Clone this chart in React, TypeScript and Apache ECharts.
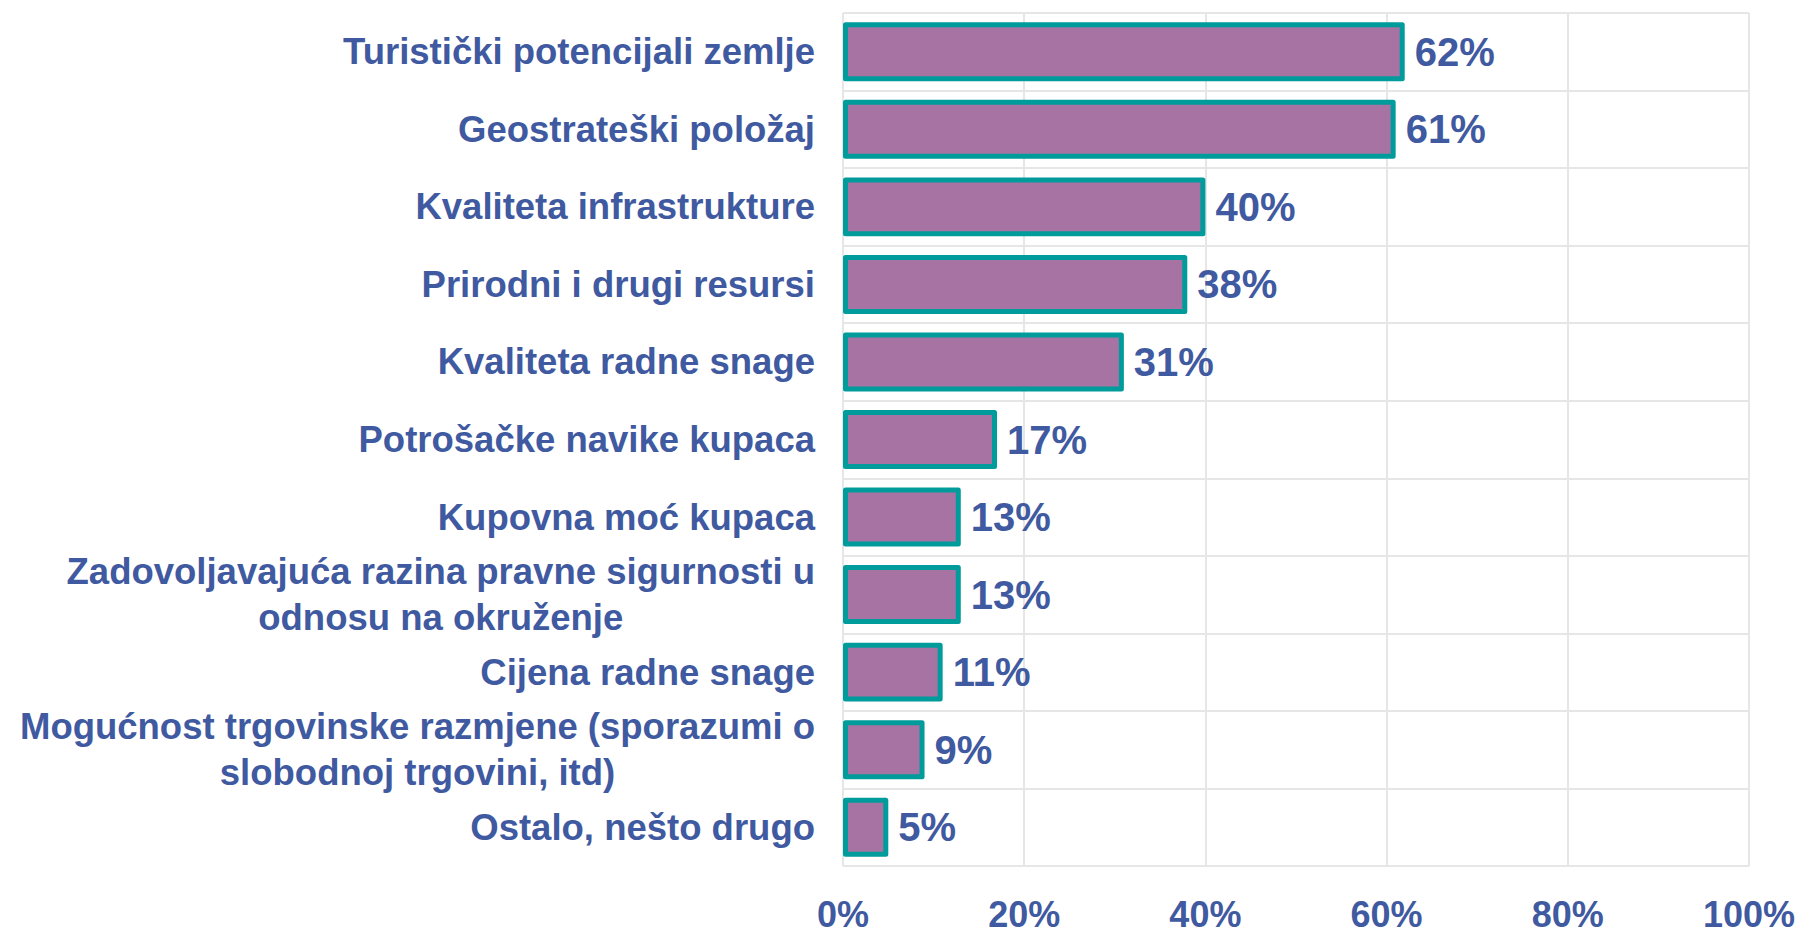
import React, { useEffect, useRef } from "react";
import * as echarts from "echarts";

const categories: string[] = [
  "Turistički potencijali zemlje",
  "Geostrateški položaj",
  "Kvaliteta infrastrukture",
  "Prirodni i drugi resursi",
  "Kvaliteta radne snage",
  "Potrošačke navike kupaca",
  "Kupovna moć kupaca",
  "Zadovoljavajuća razina pravne sigurnosti u\nodnosu na okruženje",
  "Cijena radne snage",
  "Mogućnost trgovinske razmjene (sporazumi o\nslobodnoj trgovini, itd)",
  "Ostalo, nešto drugo",
];

const values: number[] = [62, 61, 40, 38, 31, 17, 13, 13, 11, 9, 5];

const xTicks: number[] = [0, 20, 40, 60, 80, 100];

const TEXT = "#3F5AA0";
const FILL = "#A773A3";
const EDGE = "#009B9B";
const GRID = "#E6E6E6";
const FONT = "'Liberation Sans', Arial, Helvetica, sans-serif";

export default function App() {
  const ref = useRef<HTMLDivElement>(null);

  useEffect(() => {
    document.body.style.margin = "0";
    if (!ref.current) return;
    const chart = echarts.init(ref.current, null, { renderer: "svg" });
    chart.setOption({
      animation: false,
      backgroundColor: "#FFFFFF",
      grid: { left: 843, right: 50, top: 13, bottom: 67, containLabel: false },
      xAxis: {
        type: "value",
        min: xTicks[0],
        max: xTicks[xTicks.length - 1],
        interval: 20,
        axisLine: { show: false },
        axisTick: { show: false },
        splitLine: { show: true, lineStyle: { color: GRID, width: 2 } },
        axisLabel: {
          formatter: (v: number) => `${v}%`,
          color: TEXT,
          fontSize: 36,
          fontWeight: "bold",
          fontFamily: FONT,
          margin: 30,
        },
      },
      yAxis: {
        type: "category",
        inverse: true,
        data: categories,
        axisLine: { show: false },
        axisTick: { show: false },
        splitLine: { show: true, lineStyle: { color: GRID, width: 2 } },
        axisLabel: {
          margin: 28,
          formatter: (v: string) =>
            v
              .split("\n")
              .map((l) => `{c|${l}}`)
              .join("\n"),
          rich: {
            c: {
              align: "center",
              color: TEXT,
              fontSize: 36.5,
              fontWeight: "bold",
              fontFamily: FONT,
              lineHeight: 46,
            },
          },
        },
      },
      series: [
        {
          type: "bar",
          data: values,
          barCategoryGap: "24%",
          itemStyle: {
            color: FILL,
            borderColor: EDGE,
            borderWidth: 5,
            borderJoin: "round",
          },
          label: {
            show: true,
            position: "right",
            distance: 10,
            formatter: "{c}%",
            color: TEXT,
            fontSize: 40,
            fontWeight: "bold",
            fontFamily: FONT,
          },
        },
      ],
    });
    return () => chart.dispose();
  }, []);

  return (
    <div
      ref={ref}
      style={{ position: "absolute", left: 0, top: 0, width: 1799, height: 933 }}
    />
  );
}
